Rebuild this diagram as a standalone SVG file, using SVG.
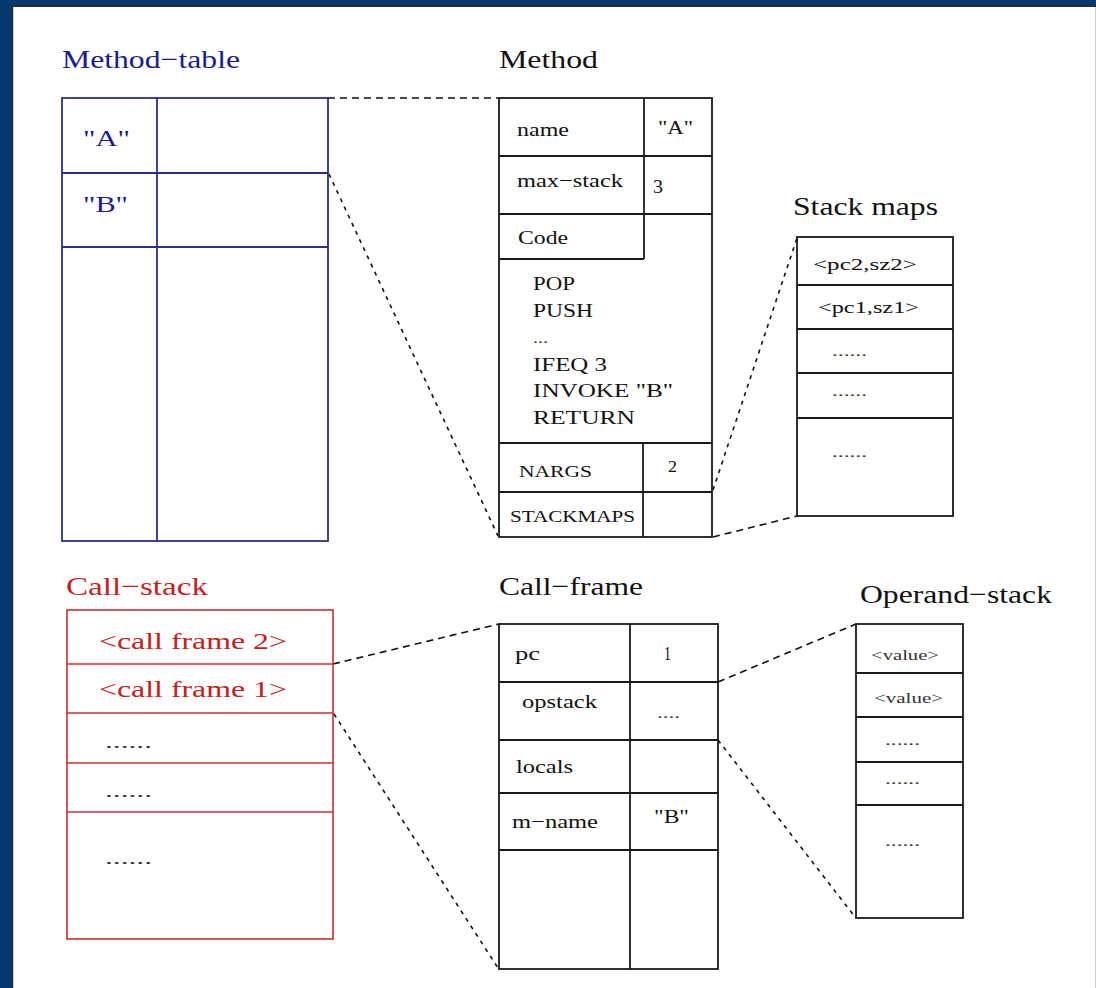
<svg xmlns="http://www.w3.org/2000/svg" width="1096" height="988" viewBox="0 0 1096 988">
<style>
text{font-family:"Liberation Serif","Times New Roman",serif}
.t{font-size:26px;fill:#111}
.tb{font-size:26px;fill:#1c1c8c}
.tr{font-size:26px;fill:#c41e1e}
.b{font-size:19px;fill:#111}
.bs{font-size:16px;fill:#111}
.sm{font-size:17px;fill:#111}
.dots{font-size:14px;fill:#333}
.bb{font-size:23px;fill:#1c1c8c}
.rr{font-size:23px;fill:#c41e1e}
.rd{font-size:16px;fill:#333}
.box{fill:none;stroke:#1a1a1a;stroke-width:1.8}
.bbox{fill:none;stroke:#2e2e88;stroke-width:1.8}
.rbox{fill:none;stroke:#c83030;stroke-width:1.6}
.dash{fill:none;stroke:#111;stroke-width:1.6;stroke-dasharray:7 5}
.dot{fill:none;stroke:#111;stroke-width:1.6;stroke-dasharray:4 5}
</style>
<rect x="0" y="0" width="1096" height="988" fill="#063a6e"/>
<rect x="13" y="7" width="1083" height="981" fill="#ffffff"/>
<path d="M12.5,988 V6 H1096" fill="none" stroke="#2a2a2a" stroke-width="1.5"/>
<line x1="1095.5" y1="7" x2="1095.5" y2="988" stroke="#d0d0d0" stroke-width="1"/>

<g id="connectors">
<line class="dash" x1="328" y1="98" x2="499" y2="98"/>
<line class="dot" x1="329" y1="174" x2="498" y2="536"/>
<line class="dot" x1="713" y1="490" x2="797" y2="238"/>
<line class="dash" x1="713" y1="537" x2="797" y2="516"/>
<line class="dash" x1="333" y1="664" x2="499" y2="624"/>
<line class="dot" x1="334" y1="714" x2="498" y2="968"/>
<line class="dash" x1="718" y1="682" x2="856" y2="624"/>
<line class="dot" x1="718" y1="740" x2="855" y2="917"/>
</g>

<g id="method-table">
<text class="tb" x="62" y="68" textLength="178" lengthAdjust="spacingAndGlyphs">Method−table</text>
<rect class="bbox" x="62" y="98" width="266" height="443"/>
<line class="bbox" x1="157" y1="98" x2="157" y2="541"/>
<line class="bbox" x1="62" y1="173" x2="328" y2="173"/>
<line class="bbox" x1="62" y1="247" x2="328" y2="247"/>
<text class="bb" x="83" y="146" textLength="47" lengthAdjust="spacingAndGlyphs">"A"</text>
<text class="bb" x="83" y="212" textLength="45" lengthAdjust="spacingAndGlyphs">"B"</text>
</g>

<g id="method">
<text class="t" x="499" y="68" textLength="99" lengthAdjust="spacingAndGlyphs">Method</text>
<rect class="box" x="499" y="98" width="213" height="439"/>
<line class="box" x1="644" y1="98" x2="644" y2="259"/>
<line class="box" x1="499" y1="156" x2="712" y2="156"/>
<line class="box" x1="499" y1="214" x2="712" y2="214"/>
<line class="box" x1="499" y1="259" x2="644" y2="259"/>
<line class="box" x1="499" y1="443" x2="712" y2="443"/>
<line class="box" x1="499" y1="492" x2="712" y2="492"/>
<line class="box" x1="643" y1="443" x2="643" y2="537"/>
<text class="b" x="517" y="136" textLength="52" lengthAdjust="spacingAndGlyphs">name</text>
<text class="b" x="658" y="134" textLength="35" lengthAdjust="spacingAndGlyphs">"A"</text>
<text class="b" x="517" y="187" textLength="106" lengthAdjust="spacingAndGlyphs">max−stack</text>
<text class="b" x="653" y="193" textLength="10" lengthAdjust="spacingAndGlyphs">3</text>
<text class="b" x="518" y="244" textLength="50" lengthAdjust="spacingAndGlyphs">Code</text>
<text class="b" x="533" y="290" textLength="42" lengthAdjust="spacingAndGlyphs">POP</text>
<text class="b" x="533" y="317" textLength="60" lengthAdjust="spacingAndGlyphs">PUSH</text>
<text class="dots" x="533" y="343" textLength="15" lengthAdjust="spacingAndGlyphs">...</text>
<text class="b" x="533" y="371" textLength="74" lengthAdjust="spacingAndGlyphs">IFEQ  3</text>
<text class="b" x="533" y="397" textLength="140" lengthAdjust="spacingAndGlyphs">INVOKE  "B"</text>
<text class="b" x="533" y="424" textLength="102" lengthAdjust="spacingAndGlyphs">RETURN</text>
<text class="bs" x="519" y="477" textLength="73" lengthAdjust="spacingAndGlyphs">NARGS</text>
<text class="bs" x="668" y="472" textLength="9" lengthAdjust="spacingAndGlyphs">2</text>
<text class="bs" x="510" y="522" textLength="125" lengthAdjust="spacingAndGlyphs">STACKMAPS</text>
</g>

<g id="stack-maps">
<text class="t" x="793" y="215" textLength="145" lengthAdjust="spacingAndGlyphs">Stack maps</text>
<rect class="box" x="797" y="237" width="156" height="279"/>
<line class="box" x1="797" y1="285" x2="953" y2="285"/>
<line class="box" x1="797" y1="329" x2="953" y2="329"/>
<line class="box" x1="797" y1="373" x2="953" y2="373"/>
<line class="box" x1="797" y1="418" x2="953" y2="418"/>
<text class="sm" x="813" y="270" textLength="104" lengthAdjust="spacingAndGlyphs">&lt;pc2,sz2&gt;</text>
<text class="sm" x="818" y="313" textLength="101" lengthAdjust="spacingAndGlyphs">&lt;pc1,sz1&gt;</text>
<text class="dots" x="832" y="356" textLength="35" lengthAdjust="spacingAndGlyphs">......</text>
<text class="dots" x="832" y="396" textLength="35" lengthAdjust="spacingAndGlyphs">......</text>
<text class="dots" x="832" y="457" textLength="35" lengthAdjust="spacingAndGlyphs">......</text>
</g>

<g id="call-stack">
<text class="tr" x="66" y="595" textLength="142" lengthAdjust="spacingAndGlyphs">Call−stack</text>
<rect class="rbox" x="67" y="610" width="266" height="329"/>
<line class="rbox" x1="67" y1="664" x2="333" y2="664"/>
<line class="rbox" x1="67" y1="713" x2="333" y2="713"/>
<line class="rbox" x1="67" y1="763" x2="333" y2="763"/>
<line class="rbox" x1="67" y1="812" x2="333" y2="812"/>
<text class="rr" x="99" y="649" textLength="188" lengthAdjust="spacingAndGlyphs">&lt;call frame 2&gt;</text>
<text class="rr" x="99" y="697" textLength="188" lengthAdjust="spacingAndGlyphs">&lt;call frame 1&gt;</text>
<text class="rd" x="105" y="748" textLength="47" lengthAdjust="spacingAndGlyphs">......</text>
<text class="rd" x="105" y="797" textLength="47" lengthAdjust="spacingAndGlyphs">......</text>
<text class="rd" x="105" y="864" textLength="47" lengthAdjust="spacingAndGlyphs">......</text>
</g>

<g id="call-frame">
<text class="t" x="499" y="595" textLength="144" lengthAdjust="spacingAndGlyphs">Call−frame</text>
<rect class="box" x="499" y="624" width="219" height="345"/>
<line class="box" x1="630" y1="624" x2="630" y2="969"/>
<line class="box" x1="499" y1="682" x2="718" y2="682"/>
<line class="box" x1="499" y1="740" x2="718" y2="740"/>
<line class="box" x1="499" y1="793" x2="718" y2="793"/>
<line class="box" x1="499" y1="850" x2="718" y2="850"/>
<text class="b" x="515" y="660" textLength="25" lengthAdjust="spacingAndGlyphs">pc</text>
<text class="b" x="664" y="660" textLength="7" lengthAdjust="spacingAndGlyphs">1</text>
<text class="b" x="522" y="708" textLength="75" lengthAdjust="spacingAndGlyphs">opstack</text>
<text class="dots" x="657" y="718" textLength="23" lengthAdjust="spacingAndGlyphs">....</text>
<text class="b" x="516" y="773" textLength="57" lengthAdjust="spacingAndGlyphs">locals</text>
<text class="b" x="512" y="828" textLength="86" lengthAdjust="spacingAndGlyphs">m−name</text>
<text class="b" x="654" y="823" textLength="35" lengthAdjust="spacingAndGlyphs">"B"</text>
</g>

<g id="operand-stack">
<text class="t" x="860" y="603" textLength="192" lengthAdjust="spacingAndGlyphs">Operand−stack</text>
<rect class="box" x="856" y="624" width="107" height="294"/>
<line class="box" x1="856" y1="673" x2="963" y2="673"/>
<line class="box" x1="856" y1="717" x2="963" y2="717"/>
<line class="box" x1="856" y1="762" x2="963" y2="762"/>
<line class="box" x1="856" y1="805" x2="963" y2="805"/>
<text class="dots" x="871" y="660" textLength="68" lengthAdjust="spacingAndGlyphs">&lt;value&gt;</text>
<text class="dots" x="874" y="703" textLength="69" lengthAdjust="spacingAndGlyphs">&lt;value&gt;</text>
<text class="dots" x="885" y="745" textLength="35" lengthAdjust="spacingAndGlyphs">......</text>
<text class="dots" x="885" y="784" textLength="35" lengthAdjust="spacingAndGlyphs">......</text>
<text class="dots" x="885" y="846" textLength="35" lengthAdjust="spacingAndGlyphs">......</text>
</g>
</svg>
